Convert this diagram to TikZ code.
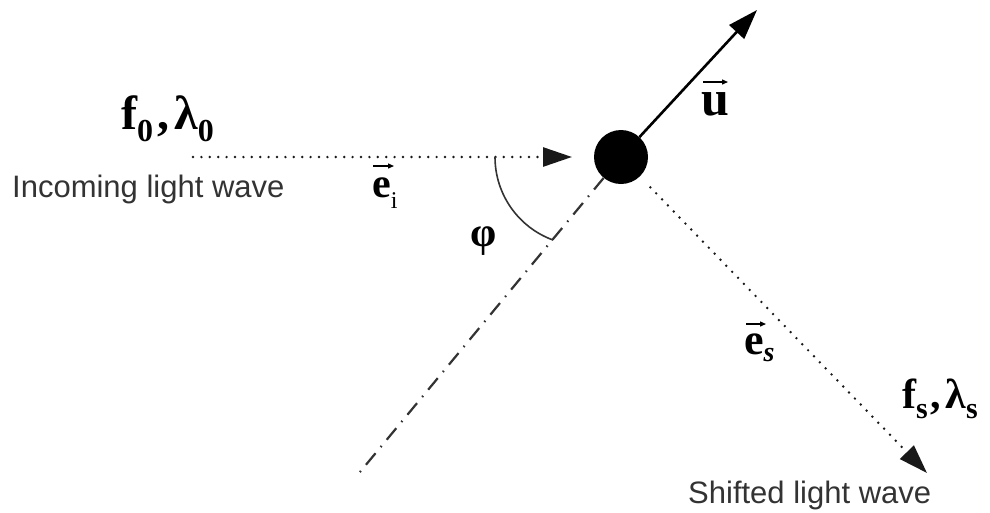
\documentclass[tikz,border=0pt]{standalone}
\usepackage{fontspec}
\newfontfamily\arialf{Liberation Sans}
\newfontfamily\timesb{Liberation Serif}
\usetikzlibrary{arrows.meta}
\tikzset{
  dotline/.style={line width=2.7pt, line cap=round, dash pattern=on 0pt off 8.4pt, draw=black!90},
  dashdotline/.style={line width=2.2pt, dash pattern=on 15pt off 8pt on 1.5pt off 8pt, draw=black!80},
  bigtip/.style={-{Triangle[length=29pt,width=19pt]}},
  vecarrow/.style={line width=1.3pt, -{Triangle[length=6pt,width=5pt]}},
  caption/.style={font=\arialf\fontsize{31}{31}\selectfont, text=black!80, inner sep=0pt, anchor=base west},
  mlabel/.style={inner sep=0pt, anchor=base west, font=\timesb\bfseries},
  particle/.style={circle, fill=black, minimum size=54pt, inner sep=0pt}
}
\begin{document}
\begin{tikzpicture}[x=1pt,y=-1pt]
\useasboundingbox (0,0) rectangle (990,512);

% particle
\node[particle] (p) at (621,157) {};

% incoming wave
\coordinate (inS) at (193,157);
\coordinate (inT) at (572,157);
\draw[dotline, bigtip] (inS) -- (inT);

% velocity
\coordinate (uT) at (757,10);
\draw[line width=2.6pt, -{Triangle[length=30pt,width=20pt]}] (p) -- (uT);

% observation direction (dash-dot)
\coordinate (dE) at (355,478);
\draw[dashdotline] (p) -- (dE);

% scattered wave
\coordinate (sT) at (927,473);
\draw[dotline, bigtip, shorten <=15pt] (p) -- (sT);

% angle arc
\draw[line width=1.6pt, black!80] (495,157) arc[start angle=180, end angle=110, radius=88.4];

% labels
\node[mlabel] (f0) at (121,129) {\fontsize{48}{48}\selectfont f\raisebox{-12pt}{\fontsize{32}{32}\selectfont 0}\hspace{4pt},\hspace{5pt}λ\raisebox{-12pt}{\fontsize{32}{32}\selectfont 0}};
\node[caption] (inc) at (12,197) {Incoming light wave};

\node[mlabel] (ei) at (372,197) {\fontsize{42}{42}\selectfont e\raisebox{-11pt}{\fontsize{24}{24}\selectfont\mdseries i}};
\coordinate (eiA) at (373,166);
\coordinate (eiB) at (394,166);
\draw[vecarrow] (eiA) -- (eiB);

\node[mlabel, anchor=base] (phi) at (484,246) {\fontsize{42}{42}\selectfont φ};

\node[mlabel] (u) at (701,115) {\fontsize{50}{50}\selectfont u};
\coordinate (uA) at (703,82);
\coordinate (uB) at (728,82);
\draw[vecarrow] (uA) -- (uB);

\node[mlabel] (es) at (744,354) {\fontsize{44}{44}\selectfont e\raisebox{-7pt}{\fontsize{28}{28}\selectfont\itshape s}};
\coordinate (esA) at (746,324);
\coordinate (esB) at (766,324);
\draw[vecarrow] (esA) -- (esB);

\node[mlabel] (fs) at (902,408) {\fontsize{42}{42}\selectfont f\raisebox{-10pt}{\fontsize{30}{30}\selectfont s}\hspace{3pt},\hspace{4pt}λ\raisebox{-10pt}{\fontsize{30}{30}\selectfont s}};

\node[caption] (shift) at (688,503) {Shifted light wave};
\end{tikzpicture}
\end{document}
